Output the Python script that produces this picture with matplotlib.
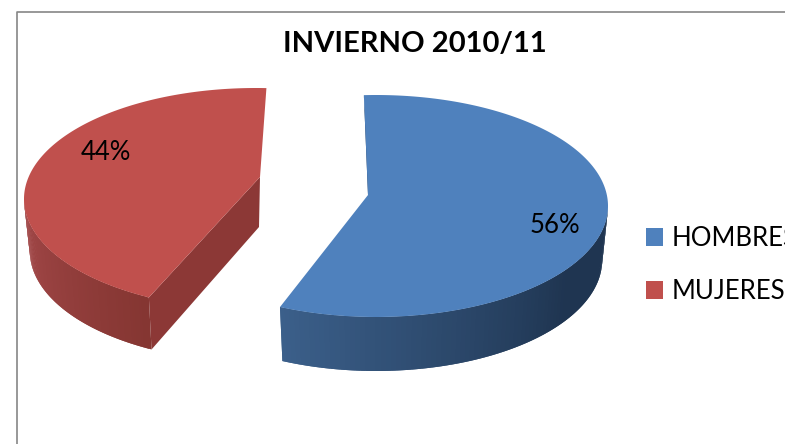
import numpy as np
import matplotlib
matplotlib.use("Agg")
import matplotlib.pyplot as plt
from matplotlib.collections import PolyCollection
from matplotlib.patches import Patch
from matplotlib.colors import to_rgb

TITLE = "INVIERNO 2010/11"
categories = ["HOMBRES", "MUJERES"]
values = [56, 44]

plt.rcParams['font.family'] = ['Lato', 'DejaVu Sans']

TOP = ['#4f81bd', '#c0504d']
WALL_A = ['#1f3551', '#853632']   # colour at the first strip of the wall
WALL_B = ['#3b5f8a', '#a5494a']   # colour at the last strip of the wall
CUT = ['#1f3551', '#8c3836']
# layout of each exploded slice, in canvas pixels
CENTER = [(376, 206), (256, 199)]
APEX = [(368, 195), (260, 177)]
RADII = (232, 111)
START = [-3.0, 207.5]      # clockwise from the top of the ellipse
GAIN = [1.029, 0.979]      # Excel's perspective stretches the sweep
DEPTH = [54, 52]
BOTTOM_SHRINK = 0.975
WALL_SPAN = [(90, None), (None, 270)]
LABEL_POS = [(555, 225), (106, 152)]

fig = plt.figure(figsize=(7.85, 4.44), dpi=100, facecolor='white')
ax = fig.add_axes([0, 0, 1, 1])
ax.set_xlim(0, 785)
ax.set_ylim(444, 0)
ax.axis('off')


def rim(i, t):
    r = np.radians(t)
    return CENTER[i][0] + RADII[0] * np.sin(r), CENTER[i][1] - RADII[1] * np.cos(r)


def lerp(a, b, f):
    a, b = np.array(to_rgb(a)), np.array(to_rgb(b))
    return tuple(a + (b - a) * f)


for i, val in enumerate(values):
    t0 = START[i]
    t1 = t0 + val / 100 * 360 * GAIN[i]
    lo = WALL_SPAN[i][0] if WALL_SPAN[i][0] is not None else t0
    hi = WALL_SPAN[i][1] if WALL_SPAN[i][1] is not None else t1
    if i == 0:
        hi = t1
    ts = np.linspace(lo, hi, 90)
    xs, ys = rim(i, ts)
    xb = CENTER[i][0] + (xs - CENTER[i][0]) * BOTTOM_SHRINK
    yb = ys + DEPTH[i]

    # flat cut face of the slice
    xe, ye = rim(i, t0)
    if i == 1:
        ax.fill([xe, APEX[i][0], APEX[i][0] - 1, CENTER[i][0] + (xe - CENTER[i][0]) * BOTTOM_SHRINK],
                [ye, APEX[i][1], APEX[i][1] + 50, ye + DEPTH[i]],
                color=CUT[i], lw=0, zorder=1)
    else:
        ax.fill([xe, APEX[i][0] + 3, APEX[i][0]], [ye, APEX[i][1] - 4, APEX[i][1]],
                color=CUT[i], lw=0, zorder=1)

    # curved wall: opaque overlapping strips so no seams show
    quads, cols = [], []
    n = len(ts)
    for k in range(n - 1):
        m = min(k + 2, n - 1)
        quads.append([(xs[k], ys[k]), (xs[m], ys[m]), (xb[m], yb[m]), (xb[k], yb[k])])
        f = k / (n - 2)
        if i == 0:
            f = max(0, (f - 0.3) / 0.7)
        cols.append(lerp(WALL_A[i], WALL_B[i], f))
    if i == 1:
        quads, cols = quads[::-1], cols[::-1]
    ax.add_collection(PolyCollection(quads, facecolors=cols, edgecolors='none', linewidths=0, zorder=2))

    # top face
    ta = np.linspace(t0, t1, 200)
    xa, ya = rim(i, ta)
    ax.fill(np.r_[APEX[i][0], xa], np.r_[APEX[i][1], ya], color=TOP[i], lw=0, zorder=3)

    ax.text(LABEL_POS[i][0], LABEL_POS[i][1], f"{val}%", ha='center', va='center',
            fontsize=18.5, color='black', zorder=5)

# chart frame, running off the canvas
ax.plot([16.5, 16.5, 785], [444, 12.5, 12.5], color='#868686', lw=1.2, zorder=0, clip_on=False)

ax.text(415, 43.5, TITLE, ha='center', va='center', fontsize=21, fontweight='bold', color='black')

handles = [Patch(facecolor=c, edgecolor='none') for c in TOP]
leg = ax.legend(handles, categories, loc='upper left', bbox_to_anchor=(646, 226),
                bbox_transform=ax.transData, frameon=False, fontsize=18.5,
                handlelength=0.66, handleheight=0.66, handletextpad=0.35,
                labelspacing=1.09, borderpad=0, borderaxespad=0)
fig.savefig('out.png', dpi=100)
